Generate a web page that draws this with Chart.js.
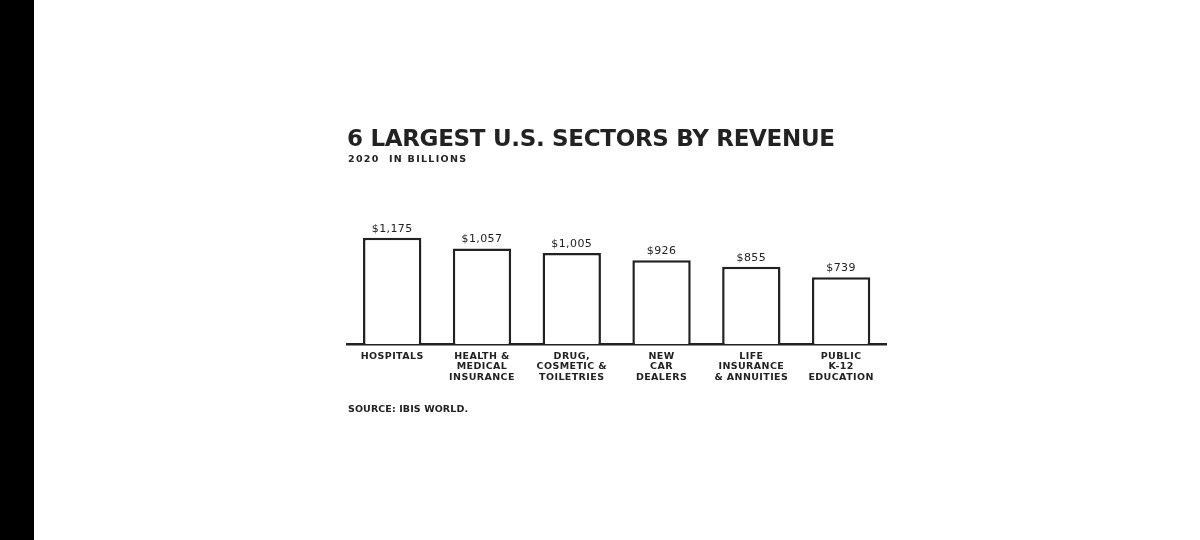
<!DOCTYPE html>
<html>
<head>
<meta charset="utf-8">
<script src="https://cdn.jsdelivr.net/npm/chart.js@4.4.1/dist/chart.umd.min.js"></script>
<style>
  html, body { margin: 0; padding: 0; background: #fff; }
  body { width: 1200px; height: 540px; position: relative; overflow: hidden; font-family: "DejaVu Sans", sans-serif; color: #222; }
  #leftbar { position: absolute; left: 0; top: 0; width: 34px; height: 540px; background: #000; }
  #wrap { position: absolute; left: 0; top: 0; width: 1200px; height: 540px; }
  .txt { position: absolute; white-space: pre; line-height: 1; color: #222; }
  #title { left: 347px; top: 127px; font-size: 23px; font-weight: bold; }
  #subtitle { left: 348px; top: 154px; font-size: 9.5px; font-weight: bold; }
  #source { left: 348px; top: 404px; font-size: 9.5px; font-weight: bold; }
</style>
</head>
<body>
<div id="leftbar"></div>
<div id="wrap"><canvas id="c" width="1200" height="540"></canvas></div>
<div class="txt" id="title">6 LARGEST U.S. SECTORS BY REVENUE</div>
<div class="txt" id="subtitle">2020  IN BILLIONS</div>
<div class="txt" id="source">SOURCE: IBIS WORLD.</div>
<script>
// ---- data ----
const categories = [
  ["HOSPITALS"],
  ["HEALTH &", "MEDICAL", "INSURANCE"],
  ["DRUG,", "COSMETIC &", "TOILETRIES"],
  ["NEW", "CAR", "DEALERS"],
  ["LIFE", "INSURANCE", "& ANNUITIES"],
  ["PUBLIC", "K-12", "EDUCATION"]
];
const revenue = [1175, 1057, 1005, 926, 855, 739];
const yMin = 0;
const yMax = 1300;

// fit text widths to the reference
function fitWidth(id, target) {
  const el = document.getElementById(id);
  const n = el.textContent.length;
  const w = el.getBoundingClientRect().width;
  el.style.letterSpacing = ((target - w) / (n - 1)) + 'px';
}
fitWidth('title', 488);
fitWidth('subtitle', 118);
fitWidth('source', 120);

const ink = '#222222';

const spacing = {
  id: 'spacing',
  beforeLayout(chart) { chart.ctx.letterSpacing = '0.4px'; },
  beforeDraw(chart) { chart.ctx.letterSpacing = '0.4px'; }
};

const valueLabels = {
  id: 'valueLabels',
  afterDatasetsDraw(chart) {
    const ctx = chart.ctx;
    const meta = chart.getDatasetMeta(0);
    ctx.save();
    ctx.font = '11px "DejaVu Sans", sans-serif';
    ctx.fillStyle = ink;
    ctx.textAlign = 'center';
    ctx.textBaseline = 'alphabetic';
    meta.data.forEach((bar, i) => {
      const v = chart.data.datasets[0].data[i];
      ctx.fillText('$' + v.toLocaleString('en-US'), bar.x, bar.y - 6);
    });
    ctx.restore();
  }
};

new Chart(document.getElementById('c'), {
  type: 'bar',
  data: {
    labels: categories,
    datasets: [{
      data: revenue,
      backgroundColor: '#ffffff',
      borderColor: ink,
      borderWidth: 2.5,
      borderSkipped: 'start',
      barPercentage: 0.65,
      categoryPercentage: 1.0
    }]
  },
  options: {
    responsive: false,
    animation: false,
    devicePixelRatio: 1,
    layout: { padding: { left: 347.3, right: 314, top: 226.4, bottom: 146 } },
    plugins: { legend: { display: false }, tooltip: { enabled: false }, title: { display: false } },
    scales: {
      x: {
        grid: { display: false, drawTicks: false },
        border: { display: true, color: ink, width: 2.5 },
        ticks: {
          color: ink,
          padding: 7,
          maxRotation: 0,
          autoSkip: false,
          font: { family: '"DejaVu Sans", sans-serif', size: 9.5, weight: 'bold', lineHeight: 1.1 }
        },
        afterFit(scale) { scale.height = 50; }
      },
      y: {
        display: false,
        min: yMin,
        max: yMax
      }
    }
  },
  plugins: [spacing, valueLabels]
});
</script>
</body>
</html>
